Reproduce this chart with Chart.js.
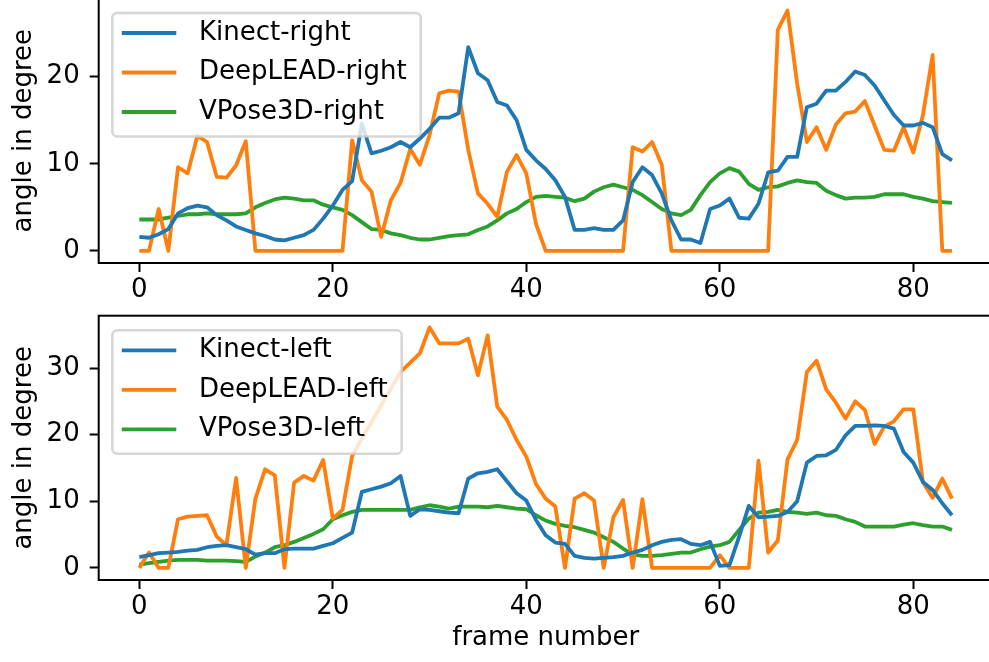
<!DOCTYPE html>
<html>
<head>
<meta charset="utf-8">
<script src="https://cdn.jsdelivr.net/npm/chart.js@4.4.0/dist/chart.umd.min.js"></script>
<style>
  html, body { margin: 0; padding: 0; background: #fff; overflow: hidden; width: 989px; height: 662px; }
  canvas { position: absolute; left: 0; }
  #rightChart { top: -4px; }
  #leftChart { top: 300px; }
</style>
</head>
<body>
<canvas id="rightChart" width="995" height="304"></canvas>
<canvas id="leftChart" width="995" height="362"></canvas>
<script>
// frame-by-frame joint angles (degrees), frames 0..84
const kinectRight = [
  1.6, 1.5, 1.9, 2.5, 4.3, 4.9, 5.2, 5.0, 4.1, 3.5,
  2.8, 2.4, 2.0, 1.7, 1.3, 1.2, 1.5, 1.8, 2.4, 3.7,
  5.2, 7.0, 8.0, 14.6, 11.2, 11.5, 11.9, 12.5, 11.9, 12.9,
  14.0, 15.3, 15.3, 15.8, 23.4, 20.4, 19.6, 17.1, 16.7, 15.0,
  11.6, 10.4, 9.4, 8.1, 6.2, 2.4, 2.4, 2.6, 2.4, 2.4,
  3.5, 7.9, 9.6, 8.7, 6.6, 3.5, 1.3, 1.3, 0.9, 4.8,
  5.2, 6.0, 3.8, 3.7, 5.4, 9.0, 9.2, 10.8, 10.8, 16.5,
  16.9, 18.4, 18.4, 19.4, 20.6, 20.2, 19.0, 17.3, 15.6, 14.4,
  14.4, 14.7, 14.2, 11.1, 10.4
];
const deepleadRight = [
  0, 0, 4.8, 0, 9.6, 8.9, 13.2, 12.5, 8.5, 8.4,
  9.8, 12.6, 0, 0, 0, 0, 0, 0, 0, 0,
  0, 0, 12.7, 8.1, 6.8, 1.6, 5.8, 7.8, 11.7, 9.9,
  13.3, 18.1, 18.4, 18.3, 11.6, 6.6, 5.4, 3.9, 9.1, 11.0,
  8.9, 3.1, 0, 0, 0, 0, 0, 0, 0, 0,
  0, 11.9, 11.4, 12.5, 9.9, 0, 0, 0, 0, 0,
  0, 0, 0, 0, 0, 0, 25.4, 27.6, 19.2, 12.5,
  14.2, 11.6, 14.5, 15.8, 16.0, 17.2, 14.4, 11.6, 11.5, 14.2,
  11.3, 15.6, 22.5, 0, 0
];
const vposeRight = [
  3.6, 3.6, 3.6, 3.8, 4.0, 4.2, 4.2, 4.3, 4.2, 4.2,
  4.2, 4.3, 5.0, 5.5, 5.9, 6.1, 6.0, 5.8, 5.8, 5.3,
  5.0, 4.7, 4.1, 3.3, 2.5, 2.4, 2.0, 1.8, 1.5, 1.3,
  1.3, 1.5, 1.7, 1.8, 1.9, 2.4, 2.8, 3.5, 4.3, 4.8,
  5.6, 6.2, 6.3, 6.2, 6.1, 5.7, 6.0, 6.8, 7.3, 7.6,
  7.3, 7.0, 6.4, 5.6, 4.8, 4.3, 4.1, 4.7, 6.4, 7.9,
  8.9, 9.5, 9.1, 7.7, 7.0, 7.3, 7.4, 7.8, 8.1, 7.9,
  7.8, 6.9, 6.4, 6.0, 6.1, 6.1, 6.2, 6.5, 6.5, 6.5,
  6.2, 6.0, 5.7, 5.6, 5.5
];
const kinectLeft = [
  1.6, 1.9, 2.2, 2.3, 2.4, 2.6, 2.7, 3.1, 3.3, 3.4,
  3.1, 2.8, 2.0, 2.2, 2.2, 2.8, 2.9, 2.9, 2.9, 3.3,
  3.7, 4.5, 5.3, 11.4, 11.8, 12.2, 12.7, 13.8, 7.8, 8.8,
  8.7, 8.5, 8.3, 8.2, 13.4, 14.2, 14.4, 14.8, 13.0, 11.2,
  10.1, 7.2, 4.9, 3.8, 3.6, 1.8, 1.5, 1.4, 1.5, 1.6,
  1.8, 2.3, 2.7, 3.4, 3.9, 4.2, 4.3, 3.6, 3.4, 3.9,
  0.3, 0.4, 4.7, 9.3, 7.6, 7.7, 7.8, 8.4, 10.0, 15.8,
  16.8, 16.9, 17.7, 19.9, 21.3, 21.3, 21.4, 21.3, 20.9, 17.4,
  15.8, 12.9, 11.7, 9.7, 7.9
];
const deepleadLeft = [
  0, 2.3, 0, 0, 7.3, 7.7, 7.8, 7.9, 4.7, 3.4,
  13.5, 0, 10.4, 14.8, 13.9, 0, 12.8, 13.8, 13.1, 16.2,
  7.4, 8.7, 16.8, 19.4, 21.9, 24.4, 26.9, 29.4, 30.8, 32.2,
  36.1, 33.7, 33.7, 33.7, 34.4, 28.9, 34.9, 24.2, 22.2, 19.2,
  16.7, 12.6, 10.4, 9.2, 0, 10.4, 11.2, 10.1, 0, 7.6,
  10.2, 0, 10.3, 0, 0, 0, 0, 0, 0, 0,
  1.9, 0, 0, 0, 16.1, 2.3, 4.1, 16.3, 19.2, 29.4,
  31.1, 26.8, 24.8, 22.4, 25.0, 23.7, 18.6, 21.2, 22.0, 23.8,
  23.8, 12.9, 10.5, 13.4, 10.4
];
const vposeLeft = [
  0.5, 0.7, 0.9, 1.1, 1.2, 1.2, 1.2, 1.1, 1.1, 1.1,
  1.0, 0.9, 1.7, 2.3, 3.1, 3.4, 3.9, 4.5, 5.1, 5.8,
  7.3, 7.9, 8.4, 8.7, 8.7, 8.7, 8.7, 8.7, 8.7, 9.1,
  9.4, 9.2, 8.9, 9.2, 9.2, 9.2, 9.1, 9.3, 9.1, 8.9,
  8.8, 7.9, 7.1, 6.6, 6.3, 6.1, 5.7, 5.3, 4.6, 3.9,
  2.9, 2.0, 1.8, 1.8, 1.9, 2.1, 2.3, 2.3, 2.8, 3.2,
  3.4, 3.9, 5.7, 7.4, 8.3, 8.4, 8.7, 8.4, 8.3, 8.1,
  8.3, 7.9, 7.8, 7.3, 6.9, 6.2, 6.2, 6.2, 6.2, 6.5,
  6.7, 6.4, 6.2, 6.2, 5.7
];

const rightLabels = ["Kinect-right", "DeepLEAD-right", "VPose3D-right"];
const leftLabels = ["Kinect-left", "DeepLEAD-left", "VPose3D-left"];
const frameTicks = [0, 20, 40, 60, 80];
const rightYTicks = [0, 10, 20];
const leftYTicks = [0, 10, 20, 30];

const colors = ["#1f77b4", "#ff7f0e", "#2ca02c"];
const FONT = "DejaVu Sans";

// spines on top of the lines, then the framed legend inside the axes
const insetLegend = {
  id: "insetLegend",
  afterDatasetsDraw(chart) {
    const { ctx, chartArea: a } = chart;
    ctx.save();
    ctx.strokeStyle = "#000";
    ctx.lineWidth = 2;
    ctx.strokeRect(a.left, a.top, a.right - a.left, a.bottom - a.top);

    ctx.font = `26px "${FONT}"`;
    const sets = chart.data.datasets;
    const maxW = Math.max(...sets.map(d => ctx.measureText(d.label).width));
    const bx = a.left + 13.6, by = a.top + 14.6;
    const bw = 86.7 + maxW + 14, bh = 123.5, r = 5;
    ctx.beginPath();
    ctx.moveTo(bx + r, by);
    ctx.arcTo(bx + bw, by, bx + bw, by + bh, r);
    ctx.arcTo(bx + bw, by + bh, bx, by + bh, r);
    ctx.arcTo(bx, by + bh, bx, by, r);
    ctx.arcTo(bx, by, bx + bw, by, r);
    ctx.closePath();
    ctx.fillStyle = "rgba(255,255,255,0.8)";
    ctx.fill();
    ctx.strokeStyle = "rgba(204,204,204,0.8)";
    ctx.lineWidth = 2.5;
    ctx.stroke();

    const rows = [20, 59.5, 99];
    sets.forEach((d, i) => {
      const y = by + rows[i];
      ctx.strokeStyle = d.borderColor;
      ctx.lineWidth = 3.8;
      ctx.beginPath();
      ctx.moveTo(bx + 9.5, y);
      ctx.lineTo(bx + 64, y);
      ctx.stroke();
      ctx.fillStyle = "#000";
      ctx.textBaseline = "middle";
      ctx.textAlign = "left";
      ctx.fillText(d.label, bx + 86.7, y);
    });
    ctx.restore();
  }
};

function makeChart(id, series, labels, yMin, yMax, yTicks, padTop, xHeight, xTitle) {
  const datasets = series.map((vals, i) => ({
    label: labels[i],
    data: vals.map((v, f) => ({ x: f, y: v })),
    borderColor: colors[i],
    borderWidth: 3.8,
    borderJoinStyle: "round",
    pointRadius: 0,
    fill: false,
    tension: 0
  }));

  const tickFont = { family: FONT, size: 26 };
  const gridOpts = { drawOnChartArea: false, drawTicks: true, tickLength: 9, tickWidth: 2, color: "#000" };

  return new Chart(document.getElementById(id), {
    type: "line",
    data: { datasets },
    plugins: [insetLegend],
    options: {
      responsive: false,
      animation: false,
      devicePixelRatio: 1,
      layout: { padding: { top: padTop, right: 2.4, left: 0, bottom: 0 } },
      plugins: { legend: { display: false }, tooltip: { enabled: false } },
      scales: {
        x: {
          type: "linear",
          min: -4.2,
          max: 88.2,
          afterBuildTicks: s => { s.ticks = frameTicks.map(v => ({ value: v })); },
          afterFit: s => { s.height = xHeight; s.paddingLeft = 0; s.paddingRight = 0; },
          grid: gridOpts,
          border: { display: false },
          ticks: { font: tickFont, color: "#000", padding: 3, maxRotation: 0, autoSkip: false },
          title: {
            display: !!xTitle,
            text: xTitle || "",
            font: tickFont,
            color: "#000",
            padding: { top: 0, bottom: 8.4 }
          }
        },
        y: {
          min: yMin,
          max: yMax,
          afterBuildTicks: s => { s.ticks = yTicks.map(v => ({ value: v })); },
          afterFit: s => { s.width = 98.7; s.paddingTop = 0; s.paddingBottom = 0; },
          grid: gridOpts,
          border: { display: false },
          ticks: { font: tickFont, color: "#000", padding: 10 },
          title: {
            display: true,
            text: "angle in degree",
            font: tickFont,
            color: "#000",
            padding: { top: 8.4, bottom: 0 }
          }
        }
      }
    }
  });
}

makeChart("rightChart", [kinectRight, deepleadRight, vposeRight], rightLabels,
  -1.4, 29.0, rightYTicks, 2.4, 37, null);
makeChart("leftChart", [kinectLeft, deepleadLeft, vposeLeft], leftLabels,
  -1.82, 37.85, leftYTicks, 15.7, 82, "frame number");
</script>
</body>
</html>
